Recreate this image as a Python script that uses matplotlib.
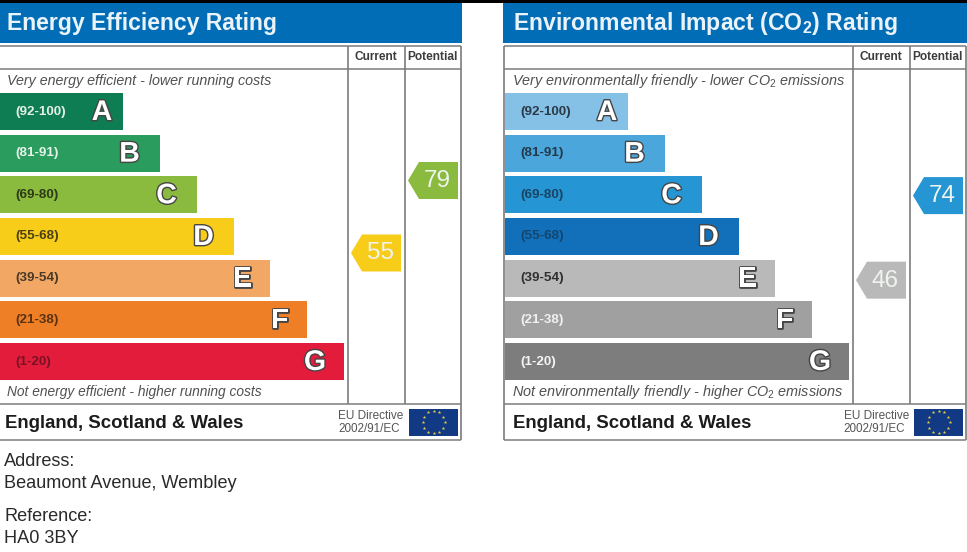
import numpy as np
import matplotlib
matplotlib.use("Agg")
import matplotlib.pyplot as plt
import matplotlib.patheffects as pe
from matplotlib.patches import Rectangle, Polygon

plt.rcParams['font.family'] = ['Liberation Sans', 'DejaVu Sans']
plt.rcParams['mathtext.fontset'] = 'custom'
plt.rcParams['mathtext.rm'] = 'Liberation Sans'
plt.rcParams['mathtext.it'] = 'Liberation Sans:italic'
plt.rcParams['mathtext.bf'] = 'Liberation Sans:bold'

# ---- data ----
bands = ['A', 'B', 'C', 'D', 'E', 'F', 'G']
ranges = ['(92-100)', '(81-91)', '(69-80)', '(55-68)', '(39-54)', '(21-38)', '(1-20)']
band_lengths = [122, 159, 196, 233, 269, 306, 343]
energy_colors = ['#0f7d53', '#2a9c5d', '#8bbb3e', '#f8cd1a', '#f2a765', '#ee7f26', '#e31c3b']
energy_label_colors = ['#e4efe9', '#e4f2e9', '#2c3a18', '#4a4010', '#4a3a28', '#5a3210', '#7a1224']
co2_colors = ['#85c0e6', '#4ba6dc', '#2595d3', '#1270ba', '#b9b9b9', '#a0a0a0', '#7d7d7d']
co2_label_colors = ['#2a3a48', '#223a4c', '#1a4464', '#14466e', '#303030', '#f0f0f0', '#f4f4f4']
energy_current, energy_potential = 55, 79
co2_current, co2_potential = 46, 74
energy_current_color, energy_potential_color = '#f8cd1a', '#8bbb3e'
co2_current_color, co2_potential_color = '#b9b9b9', '#2595d3'
letter_insets = [20.5, 30, 30, 30, 27, 26.5, 28.5]

fig = plt.figure(figsize=(9.67, 5.52), dpi=100, facecolor='white')
ax = fig.add_axes([0, 0, 1, 1])
ax.set_xlim(0, 967)
ax.set_ylim(552, 0)
ax.axis('off')

GRID = '#7c7c7c'
BLUE = '#016db6'
ax.add_patch(Rectangle((0, 0), 967, 3, color='black', lw=0))


def score_y(v):
    return 180.5 + (79 - v) * 3.02


def pointer(x0, v, col):
    y = score_y(v)
    ax.add_patch(Polygon([(x0, y), (x0 + 11, y - 18.5), (x0 + 50, y - 18.5),
                          (x0 + 50, y + 18.5), (x0 + 11, y + 18.5)], closed=True, color=col, lw=0))
    ax.text(x0 + 29.5, y + 0.5, str(v), color='#eef4ee', fontsize=17.5, ha='center', va='center')


def panel(x0, xhead0, xhead1, xr, title, top, bottom, colors, lcolors, cur, pot, ccol, pcol,
          top_fs, bot_fs, foot_dx):
    c1, c2 = x0 + 348, x0 + 405
    left = x0 - 1 if x0 else 0
    ax.add_patch(Rectangle((xhead0, 3), xhead1 - xhead0, 39.5, color=BLUE, lw=0))
    ax.text(x0 + 7 + foot_dx / 3, 23.5, title, color='#eaf3f9', fontsize=16.6, fontweight='bold', va='center', ha='left')
    # table
    for y in (45.5, 69, 403.5, 440):
        ax.plot([left, xr], [y, y], color=GRID, lw=1.1, solid_capstyle='butt')
    for x in (c1, c2):
        ax.plot([x, x], [45.5, 403.5], color=GRID, lw=1.2, solid_capstyle='butt')
    ax.plot([xr, xr], [45.5, 440], color=GRID, lw=1.2, solid_capstyle='butt')
    if x0:
        ax.plot([left, left], [45.5, 440], color=GRID, lw=1.2, solid_capstyle='butt')
    ax.text((c1 + c2) / 2 - 0.5, 57.5, 'Current', fontsize=8.6, fontweight='bold', color='#3c3c3c', ha='center', va='center')
    ax.text((c2 + xr) / 2 - 0.5, 57.5, 'Potential', fontsize=8.6, fontweight='bold', color='#3c3c3c', ha='center', va='center')
    ax.text(x0 + 7.2, 81, top, fontsize=top_fs, style='italic', color='#505050', va='center')
    ax.text(x0 + 7, 392, bottom, fontsize=bot_fs, style='italic', color='#505050', va='center')
    # bars
    ys = np.linspace(111.5, 361.5, 7)
    start = left + 0.5 if x0 else 0
    ax.barh(ys, [b + x0 + 0.7 - start for b in band_lengths], left=start, height=37, color=colors, lw=0)
    for y, b, r, band, lc, inset in zip(ys, band_lengths, ranges, bands, lcolors, letter_insets):
        ax.text(x0 + 15 + foot_dx * 0.2, y, r, fontsize=9.7, fontweight='bold', color=lc, va='center', ha='left')
        ax.text(x0 + b - inset + 0.5, y + 1.5, band, fontsize=20.5, fontweight='bold', color='white', va='center', ha='center',
                path_effects=[pe.withStroke(linewidth=2, foreground='#454545')])
    pointer(c1 + 3, cur, ccol)
    pointer(c2 + 3, pot, pcol)
    # footer
    ax.text(x0 + 5 + foot_dx, 423, 'England, Scotland & Wales', fontsize=13.4, fontweight='bold', color='#1c1c1c', va='center')
    ax.text(x0 + 338.5, 416, 'EU Directive', fontsize=8.5, color='#555555', va='center')
    ax.text(x0 + 338.5, 429.5, '2002/91/EC', fontsize=8.4, color='#555555', va='center')
    fx = x0 + 409
    ax.add_patch(Rectangle((fx, 408.5), 49, 27.5, color='#123a84', lw=0))
    ang = np.deg2rad(np.arange(0, 360, 30))
    ax.scatter(fx + 24.5 + 11 * np.cos(ang), 422 + 11 * np.sin(ang), marker='*', s=7, color='#e8d040', lw=0, zorder=3)


panel(0, 0, 462, 461,
      'Energy Efficiency Rating',
      'Very energy efficient - lower running costs',
      'Not energy efficient - higher running costs',
      energy_colors, energy_label_colors, energy_current, energy_potential,
      energy_current_color, energy_potential_color, 10.3, 9.9, 0)
panel(505, 503, 967, 966,
      r'Environmental Impact (CO$_{\mathbf{2}}$) Rating',
      r'Very environmentally friendly - lower CO$_{2}$ emissions',
      r'Not environmentally friendly - higher CO$_{2}$ emissions',
      co2_colors, co2_label_colors, co2_current, co2_potential,
      co2_current_color, co2_potential_color, 10.35, 10.4, 3)

for y, s in zip((461.5, 483.5, 516.5, 538.5), ('Address:', 'Beaumont Avenue, Wembley', 'Reference:', 'HA0 3BY')):
    ax.text(4, y, s, fontsize=13.1, color='#2a2a2a', va='center')

fig.savefig('out.png', dpi=100)
